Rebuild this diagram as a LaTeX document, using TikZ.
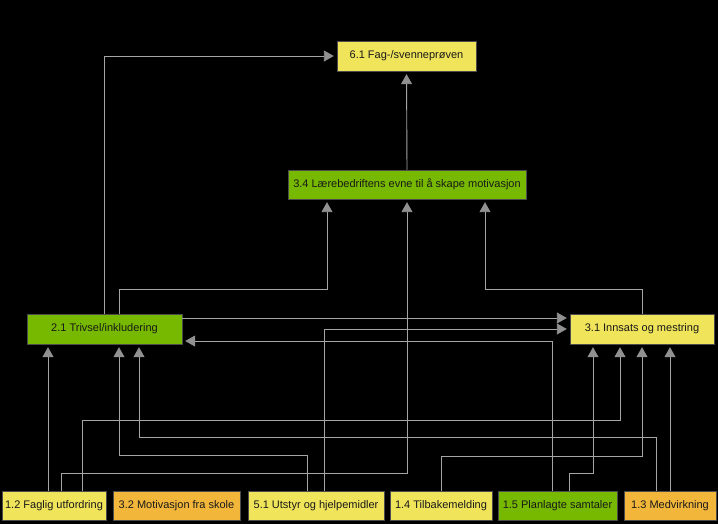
\documentclass[tikz,border=0pt]{standalone}
\usepackage{fontspec}
\setmainfont{Liberation Sans}
\usetikzlibrary{arrows.meta}
\definecolor{boxyellow}{RGB}{240,228,90}
\definecolor{boxorange}{RGB}{242,183,58}
\definecolor{boxgreen}{RGB}{118,185,0}
\definecolor{linkgray}{RGB}{165,165,165}
\definecolor{tipgray}{RGB}{145,145,145}
\begin{document}
\begin{tikzpicture}[
    x=1pt, y=-1pt,
    >={Triangle[width=11pt,length=10pt,color=tipgray]},
    every node/.style={draw=black!70, rectangle, inner sep=0pt, minimum height=29pt, text=black!90, font=\fontsize{11}{13}\selectfont},
    yellowbox/.style={fill=boxyellow},
    orangebox/.style={fill=boxorange},
    greenbox/.style={fill=boxgreen},
    link/.style={->, draw=linkgray, line width=0.9pt, shorten >=3pt}
]
  \fill[black] (0,0) rectangle (718,524);

  % Goal and middle level
  \node (fag) [yellowbox, minimum width=139pt, minimum height=30pt] at (406.5,56) {6.1 Fag-/svenneprøven};
  \node (laere) [greenbox, minimum width=238pt] at (407,184.5) {3.4 Lærebedriftens evne til å skape motivasjon};
  \node (trivsel) [greenbox, minimum width=155pt, minimum height=30pt] at (104.5,329) {2.1 Trivsel/inkludering};
  \node (innsats) [yellowbox, minimum width=144pt, minimum height=30pt] at (642,329) {3.1 Innsats og mestring};

  % Bottom row
  \node (faglig) [yellowbox, minimum width=104pt] at (54,505.5) {1.2 Faglig utfordring};
  \node (motiv) [orangebox, minimum width=127pt] at (176.5,505.5) {3.2 Motivasjon fra skole};
  \node (utstyr) [yellowbox, minimum width=136pt] at (316,505.5) {5.1 Utstyr og hjelpemidler};
  \node (tilbake) [yellowbox, minimum width=102pt] at (441,505.5) {1.4 Tilbakemelding};
  \node (planlagt) [greenbox, minimum width=119pt] at (557.5,505.5) {1.5 Planlagte samtaler};
  \node (medvirk) [orangebox, minimum width=92pt] at (670,505.5) {1.3 Medvirkning};

  % Links to the goal
  \draw[link] (trivsel.north) |- (fag.west);
  \draw[link] (laere.north) -- (fag.south);
  \draw[link] ([xshift=14.5pt]trivsel.north) -- ++(0,-24) -| ([xshift=-80pt]laere.south);
  \draw[link] (innsats.north) -- ++(0,-24) -| ([xshift=78pt]laere.south);

  % Links between the middle boxes
  \draw[link] ([yshift=11pt]trivsel.east) -- ([yshift=11pt]innsats.west);
  \draw[link] ([xshift=8pt]utstyr.north) |- (innsats.west);
  \draw[link] ([xshift=-5.5pt]planlagt.north) |- ([yshift=-12pt]trivsel.east);

  % Links from the bottom row
  \draw[link] ([xshift=-6pt]faglig.north) -- ([xshift=-6pt]faglig.north |- trivsel.south);
  \draw[link] ([xshift=28pt]faglig.north) -- ++(0,-70) -| ([xshift=-22pt]innsats.south);
  \draw[link] ([xshift=7pt]faglig.north) -- ++(0,-17) -| (laere.south);
  \draw[link] ([xshift=-9pt]utstyr.north) -- ++(0,-35) -| ([xshift=14.5pt]trivsel.south);
  \draw[link] ([xshift=-14pt]medvirk.north) -- ++(0,-53) -| ([xshift=34.5pt]trivsel.south);
  \draw[link] (tilbake.north) -- ++(0,-34) -| (innsats.south);
  \draw[link] ([xshift=11.5pt]planlagt.north) -- ++(0,-17) -| ([xshift=-49pt]innsats.south);
  \draw[link] (medvirk.north) -- (medvirk.north |- innsats.south);
\end{tikzpicture}
\end{document}
